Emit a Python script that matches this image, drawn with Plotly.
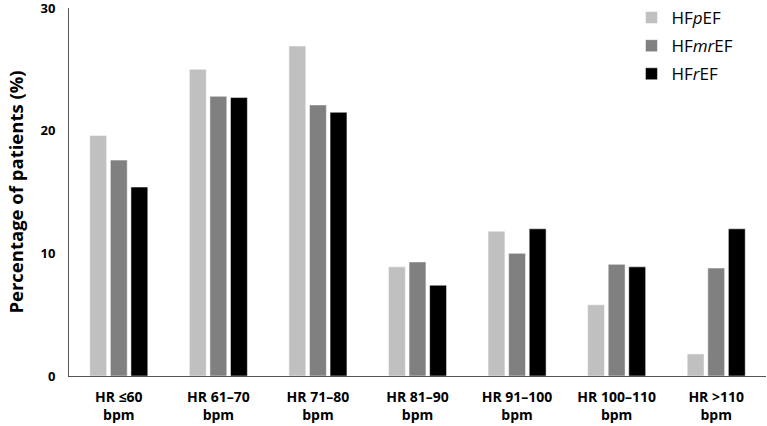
import plotly.graph_objects as go

categories = ["HR ≤60<br>bpm", "HR 61–70<br>bpm", "HR 71–80<br>bpm", "HR 81–90<br>bpm",
              "HR 91–100<br>bpm", "HR 100–110<br>bpm", "HR >110<br>bpm"]
hfpef = [19.6, 25.0, 26.9, 8.9, 11.8, 5.8, 1.8]
hfmref = [17.6, 22.8, 22.1, 9.3, 10.0, 9.1, 8.8]
hfref = [15.4, 22.7, 21.5, 7.4, 12.0, 8.9, 12.0]

series_names = ["HF<i>p</i>EF", "HF<i>mr</i>EF", "HF<i>r</i>EF"]
colors = ["#c0c0c0", "#808080", "#000000"]

font_family = "Open Sans, Noto Sans CJK KR, sans-serif"

fig = go.Figure()
for name, vals, col in zip(series_names, [hfpef, hfmref, hfref], colors):
    fig.add_trace(go.Bar(x=categories, y=vals, name=name, legendgroup=name,
                         marker=dict(color=col, line=dict(color="white", width=0.5))))

fig.update_layout(
    width=767, height=426,
    margin=dict(l=69, r=1, t=8, b=50, autoexpand=False),
    paper_bgcolor="white", plot_bgcolor="white",
    barmode="group", bargap=0.38, bargroupgap=0.18,
    font=dict(family=font_family, color="#000000"),
    legend=dict(x=0.807, y=1.0, yref="container", xanchor="left", yanchor="top",
                font=dict(size=17, family=font_family, color="#000000"),
                bgcolor="rgba(0,0,0,0)", tracegroupgap=3),
    xaxis=dict(showline=True, linecolor="#555555", linewidth=1, ticks="",
               automargin=False, ticklabelstandoff=8,
               tickfont=dict(size=14, family=font_family, weight="bold"),
               range=[-0.5, 6.5]),
    yaxis=dict(range=[0, 30], tickvals=[0, 10, 20, 30], showgrid=False,
               showline=True, linecolor="#555555", linewidth=1, ticks="",
               zeroline=False, automargin=False, ticklabeloverflow="allow",
               tickfont=dict(size=13, family=font_family, weight="bold"),
               ticklabelstandoff=10,
               title=dict(text="Percentage of patients (%)",
                          font=dict(size=18.5, family=font_family, weight="bold"),
                          standoff=12)),
)

fig.write_html("out.html", config={"displayModeBar": False},
               post_script="document.body.style.margin='0';")
